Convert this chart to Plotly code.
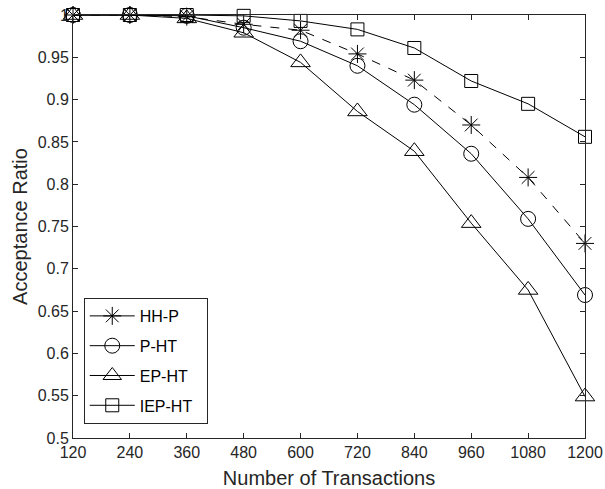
import plotly.graph_objects as go

transactions = [120, 240, 360, 480, 600, 720, 840, 960, 1080, 1200]
hh_p = [1.0, 1.0, 0.998, 0.989, 0.982, 0.954, 0.923, 0.870, 0.808, 0.730]
p_ht = [1.0, 1.0, 0.999, 0.985, 0.969, 0.940, 0.894, 0.836, 0.759, 0.669]
ep_ht = [1.0, 1.0, 0.996, 0.979, 0.944, 0.886, 0.839, 0.754, 0.675, 0.549]
iep_ht = [1.0, 1.0, 1.0, 0.999, 0.993, 0.983, 0.961, 0.922, 0.895, 0.856]

series = [
    ("HH-P", hh_p, "asterisk-open", "dash", 15),
    ("P-HT", p_ht, "circle-open", "solid", 15),
    ("EP-HT", ep_ht, "triangle-up-open", "solid", 17),
    ("IEP-HT", iep_ht, "square-open", "solid", 13),
]

x_ticks = [120, 240, 360, 480, 600, 720, 840, 960, 1080, 1200]
y_ticks = [0.5, 0.55, 0.6, 0.65, 0.7, 0.75, 0.8, 0.85, 0.9, 0.95, 1.0]
y_tick_labels = ["0.5", "0.55", "0.6", "0.65", "0.7", "0.75", "0.8", "0.85", "0.9", "0.95", "1"]

FONT = "Liberation Sans, Arial, Helvetica"
fig = go.Figure()
for name, vals, sym, dash, sz in series:
    fig.add_trace(go.Scatter(
        x=transactions, y=vals, name=name, mode="lines+markers", showlegend=False,
        line=dict(color="black", width=1, dash=dash),
        marker=dict(symbol=sym, size=sz, color="black", line=dict(width=1, color="black")),
        cliponaxis=False,
    ))
# legend entries (solid short segments as in the reference)
for name, vals, sym, dash, sz in series:
    fig.add_trace(go.Scatter(
        x=[None], y=[None], name=name + "\u00a0\u00a0", legendgroup=name,
        mode="lines+markers", showlegend=True,
        line=dict(color="black", width=1),
        marker=dict(symbol=sym, size=sz, color="black", line=dict(width=1, color="black")),
    ))

axis_common = dict(
    showline=True, linecolor="#262626", linewidth=1, mirror="ticks",
    ticks="inside", ticklen=5, tickcolor="#262626", showgrid=False, zeroline=False,
    automargin=False,
    tickfont=dict(family=FONT, size=16, color="#262626"),
)

fig.update_xaxes(range=[120, 1200], tickvals=x_ticks, ticktext=[str(t) for t in x_ticks],
                 title=dict(text="Number of Transactions", standoff=11,
                            font=dict(family=FONT, size=20, color="#262626")),
                 **axis_common)
fig.update_yaxes(range=[0.5, 1.0], tickvals=y_ticks, ticktext=y_tick_labels,
                 title=dict(text="Acceptance Ratio", standoff=4,
                            font=dict(family=FONT, size=20, color="#262626")),
                 **axis_common)

fig.update_layout(
    width=605, height=489,
    margin=dict(l=73, r=20, t=15, b=51),
    paper_bgcolor="white", plot_bgcolor="white",
    showlegend=True,
    legend=dict(x=0.021, y=0.331, xanchor="left", yanchor="top",
                bgcolor="white", bordercolor="#262626", borderwidth=1,
                font=dict(family=FONT, size=16, color="black"),
                traceorder="grouped", tracegroupgap=6, itemwidth=45),
)

fig.write_html("out.html", config={"displayModeBar": False},
               post_script="document.body.style.margin='0px';")
